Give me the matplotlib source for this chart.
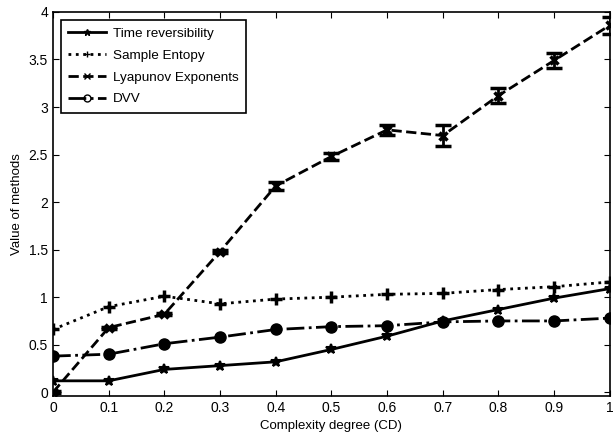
import matplotlib
matplotlib.use('Agg')
import matplotlib.pyplot as plt
import numpy as np

plt.rcParams['font.family'] = ['Liberation Sans', 'DejaVu Sans']

cd = [0, 0.1, 0.2, 0.3, 0.4, 0.5, 0.6, 0.7, 0.8, 0.9, 1.0]
time_rev = [0.12, 0.12, 0.24, 0.28, 0.32, 0.45, 0.59, 0.75, 0.87, 0.99, 1.09]
sample_ent = [0.66, 0.90, 1.01, 0.93, 0.98, 1.00, 1.03, 1.04, 1.08, 1.11, 1.16]
lyapunov = [0.0, 0.68, 0.82, 1.48, 2.17, 2.48, 2.76, 2.70, 3.12, 3.49, 3.86]
lyapunov_err = [0.01, 0.01, 0.01, 0.02, 0.04, 0.04, 0.05, 0.11, 0.075, 0.08, 0.09]
dvv = [0.38, 0.40, 0.51, 0.58, 0.66, 0.69, 0.70, 0.74, 0.75, 0.75, 0.78]
names = ['Time reversibility', 'Sample Entopy', 'Lyapunov Exponents', 'DVV']

fig = plt.figure(figsize=(6.16, 4.43), dpi=100)
ax = fig.add_axes([0.086, 0.106, 0.904, 0.867])

h1, = ax.plot(cd, time_rev, 'k-', marker='*', ms=7, mew=1.5, lw=2)
h2, = ax.plot(cd, sample_ent, 'k:', marker='+', ms=8, mew=2.5, lw=2)
eb = ax.errorbar(cd, lyapunov, yerr=lyapunov_err, fmt='k--', marker='x', ms=6, mew=2.5,
                 lw=2, elinewidth=2, capsize=6, capthick=2)
h4, = ax.plot(cd, dvv, 'k-.', marker='o', ms=8, lw=2)

ax.set_xlim(0, 1)
ax.set_ylim(-0.04, 4)
ax.set_xticks(np.arange(0, 1.01, 0.1))
ax.set_xticklabels(['0', '0.1', '0.2', '0.3', '0.4', '0.5', '0.6', '0.7', '0.8', '0.9', '1'])
ax.set_yticks(np.arange(0, 4.01, 0.5))
ax.set_yticklabels(['0', '0.5', '1', '1.5', '2', '2.5', '3', '3.5', '4'])
ax.tick_params(direction='in', top=True, right=True, labelsize=10, length=4)
for s in ax.spines.values():
    s.set_linewidth(1.2)

ax.set_xlabel('Complexity degree (CD)', fontsize=9.5)
ax.set_ylabel('Value of methods', fontsize=9.5)

leg = ax.legend([h1, h2, eb.lines[0], h4], names, loc='upper left', fontsize=9.7,
                fancybox=False, edgecolor='k', framealpha=1, borderaxespad=0.6,
                handlelength=2.8, handletextpad=0.5, labelspacing=0.7, borderpad=0.55)
leg.get_frame().set_linewidth(1.2)
for h in leg.legend_handles:
    h.set_markerfacecolor('none')
    h.set_markersize(5)
    h.set_markeredgewidth(1)

fig.savefig('out.png', dpi=100)
